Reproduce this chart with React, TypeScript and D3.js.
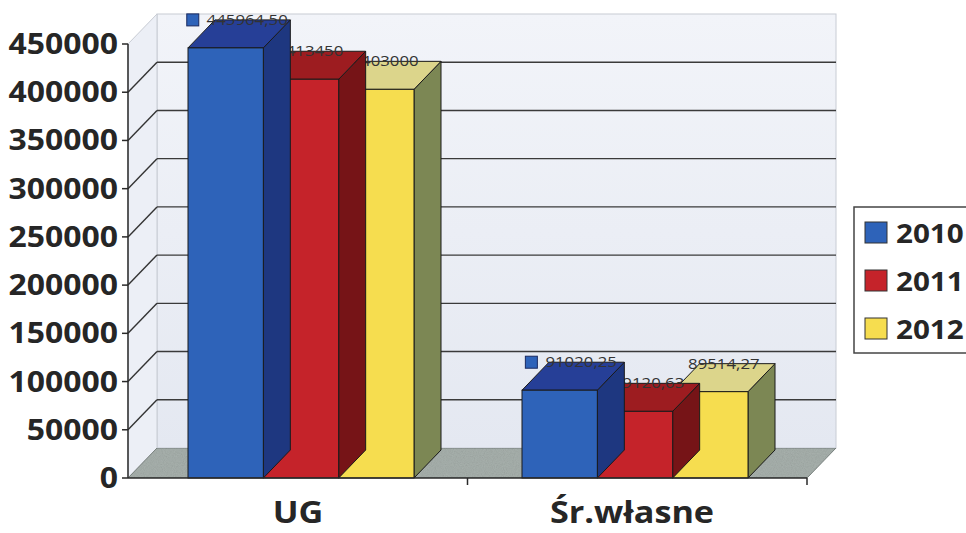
import React from "react";
import * as d3 from "d3";

const categories = ["UG", "Śr.własne"];
const seriesNames = ["2010", "2011", "2012"];
const values2010 = [445964.5, 91020.25];
const values2011 = [413450, 69120.63];
const values2012 = [403000, 89514.27];
const labels2010 = ["445964,50", "91020,25"];
const labels2011 = ["413450", "69120,63"];
const labels2012 = ["403000", "89514,27"];
const yTicks = [0, 50000, 100000, 150000, 200000, 250000, 300000, 350000, 400000, 450000];

const seriesValues = [values2010, values2011, values2012];
const seriesLabels = [labels2010, labels2011, labels2012];
const colors = [
  { front: "#2e63b9", top: "#263f97", side: "#1e3780" },
  { front: "#c5232a", top: "#9d1c20", side: "#761417" },
  { front: "#f6dd4f", top: "#dcd58b", side: "#7c8754" },
];

const W = 966, H = 533;
const DX = 29, DY = -30; // wall depth
const BDX = 27, BDY = -28; // bar depth
const SX = 1.14;

export default function App() {
  const y = d3.scaleLinear().domain([0, 450000]).range([478, 44]);
  const x0 = d3.scaleBand<string>().domain(categories).range([128, 807]);
  const xg = d3.scaleBand<string>().domain(categories).range([134, 802]);
  const step = xg.bandwidth();
  const gw = 226;
  const x1 = d3.scaleBand<string>().domain(seriesNames).range([0, gw]);
  const x0l = 128, x0r = 807, yb = y(0), yt = y(450000);

  const fmtTick = (v: number) => String(v);
  const font = "'Open Sans', 'DejaVu Sans', sans-serif";

  const bars: React.ReactNode[] = [];
  categories.forEach((c, ci) => {
    const gx = (xg(c) as number) + (step - gw) / 2;
    for (let si = seriesNames.length - 1; si >= 0; si--) {
      const v = seriesValues[si][ci];
      const bx = gx + (x1(seriesNames[si]) as number);
      const w = x1.bandwidth();
      const ty = y(v);
      const col = colors[si];
      const top = `${bx},${ty} ${bx + w},${ty} ${bx + w + BDX},${ty + BDY} ${bx + BDX},${ty + BDY}`;
      const side = `${bx + w},${ty} ${bx + w + BDX},${ty + BDY} ${bx + w + BDX},${yb + BDY} ${bx + w},${yb}`;
      const label = seriesLabels[si][ci];
      const hasKey = si === 0;
      const cx = bx + w / 2 + BDX / 2 + (hasKey ? 8 : 0);
      const cy = ty + BDY / 2 - 14;
      const tw = label.length * 9.2;
      bars.push(
        <g key={`${c}-${si}`}>
          <polygon points={side} fill={col.side} stroke="#1a1a1a" strokeWidth={1} strokeLinejoin="round" />
          <polygon points={top} fill={col.top} stroke="#1a1a1a" strokeWidth={1} strokeLinejoin="round" />
          <rect x={bx} y={ty} width={w} height={yb - ty} fill={col.front} stroke="#1a1a1a" strokeWidth={1} />
          {hasKey && (
            <rect x={cx - tw / 2 - 19} y={cy - 6} width={12} height={12} fill={col.front} stroke="#1a2a60" strokeWidth={1} />
          )}
          <text
            transform={`translate(${cx},${cy + 5}) scale(1.2,1)`}
            textAnchor="middle"
            fontFamily={font}
            fontSize={14}
            fill="#333"
          >
            {label}
          </text>
        </g>
      );
    }
  });

  return (
    <svg width={W} height={H} style={{ position: "absolute", left: 0, top: 0, background: "#fff" }}>
      <defs>
        <filter id="grain" x="0" y="0" width="100%" height="100%">
          <feTurbulence type="fractalNoise" baseFrequency="0.9" numOctaves="2" result="n" />
          <feColorMatrix type="saturate" values="0" in="n" result="g" />
          <feComponentTransfer in="g" result="g2">
            <feFuncA type="linear" slope="0.35" />
          </feComponentTransfer>
          <feComposite in="g2" in2="SourceGraphic" operator="in" result="t" />
          <feBlend in="SourceGraphic" in2="t" mode="multiply" />
        </filter>
        <linearGradient id="wallg" x1="0" y1="0" x2="0" y2="1">
          <stop offset="0" stopColor="#f2f4f9" />
          <stop offset="1" stopColor="#e4e8f1" />
        </linearGradient>
      </defs>
      <rect x={x0l + DX} y={yt + DY} width={x0r - x0l} height={yb - yt} fill="url(#wallg)" stroke="#c8ccd4" strokeWidth={1} />
      <polygon
        points={`${x0l},${yt} ${x0l + DX},${yt + DY} ${x0l + DX},${yb + DY} ${x0l},${yb}`}
        fill="#eceff6"
        stroke="#c8ccd4"
        strokeWidth={1}
      />
      {yTicks.filter((t) => t > 0 && t < 450000).map((t) => (
        <g key={t}>
          <line x1={x0l} y1={y(t)} x2={x0l + DX} y2={y(t) + DY} stroke="#333" strokeWidth={1.4} />
          <line x1={x0l + DX} y1={y(t) + DY} x2={x0r + DX} y2={y(t) + DY} stroke="#3a3a3a" strokeWidth={1.4} />
        </g>
      ))}
      <polygon
        points={`${x0l},${yb} ${x0r},${yb} ${x0r + DX},${yb + DY} ${x0l + DX},${yb + DY}`}
        fill="#a8b1ad"
        stroke="#7d8683"
        strokeWidth={1}
        filter="url(#grain)"
      />
      {bars}
      <line x1={x0l} y1={yt} x2={x0l} y2={yb} stroke="#2a2a2a" strokeWidth={1.5} />
      <line x1={x0l} y1={yb} x2={x0r} y2={yb} stroke="#2a2a2a" strokeWidth={1.5} />
      {yTicks.map((t) => (
        <g key={`t${t}`}>
          <line x1={x0l - 6} y1={y(t)} x2={x0l} y2={y(t)} stroke="#2a2a2a" strokeWidth={1.5} />
          <text
            transform={`translate(118,${y(t) + 10}) scale(${SX},1)`}
            textAnchor="end"
            fontFamily={font}
            fontWeight={700}
            fontSize={28}
            fill="#262626"
          >
            {fmtTick(t)}
          </text>
        </g>
      ))}
      {[...categories.map((c) => x0(c) as number), x0r].slice(1).map((xx, i) => (
        <line key={`ct${i}`} x1={xx} y1={yb} x2={xx} y2={yb + 7} stroke="#2a2a2a" strokeWidth={1.5} />
      ))}
      {categories.map((c) => (
        <text
          key={c}
          transform={`translate(${(xg(c) as number) + step / 2 - 3},${523}) scale(${SX},1)`}
          textAnchor="middle"
          fontFamily={font}
          fontWeight={700}
          fontSize={30}
          fill="#262626"
        >
          {c}
        </text>
      ))}
      <rect x={854} y={207} width={130} height={146} fill="#fff" stroke="#444" strokeWidth={1.5} />
      {seriesNames.map((s, i) => (
        <g key={s}>
          <rect x={865} y={222 + i * 48} width={22} height={21} fill={colors[i].front} stroke="#333" strokeWidth={1} />
          <text
            transform={`translate(896,${243 + i * 48}) scale(${SX},1)`}
            fontFamily={font}
            fontWeight={700}
            fontSize={26}
            fill="#262626"
          >
            {s}
          </text>
        </g>
      ))}
    </svg>
  );
}
